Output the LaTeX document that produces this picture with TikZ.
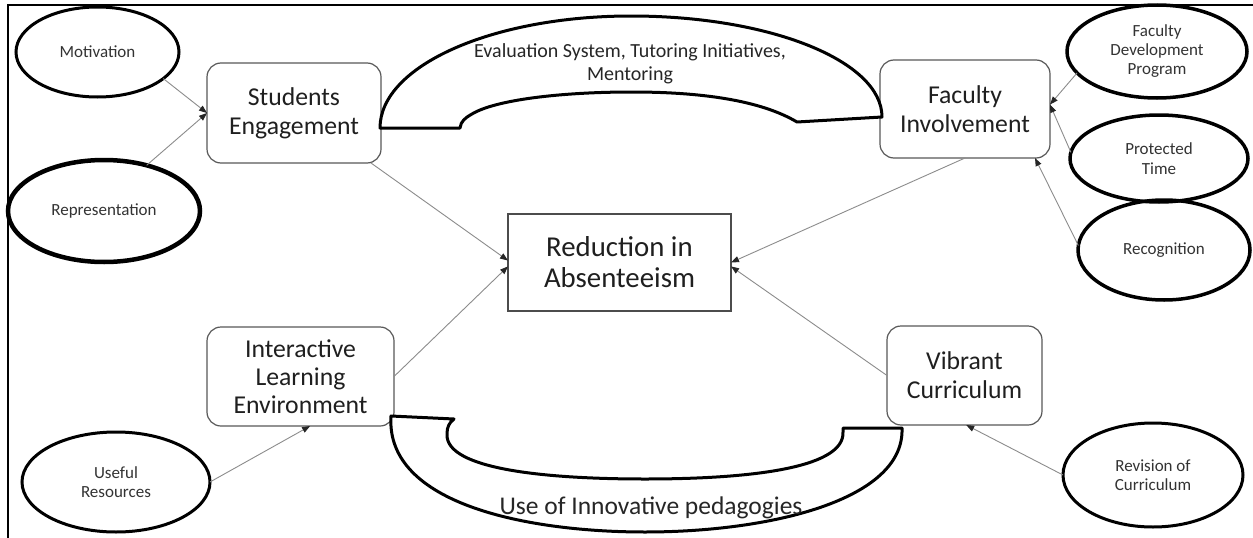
\documentclass[tikz,border=0pt]{standalone}
\usepackage{fontspec}
\setmainfont{Carlito}
\usetikzlibrary{shapes.geometric,arrows.meta}

\begin{document}
\begin{tikzpicture}[x=1pt,y=-1pt,
  every node/.style={inner sep=0pt, outer sep=0pt},
  roundbox/.style={draw=black!65, line width=1.2pt, rounded corners=14pt,
    align=center, text=black!88, font=\fontsize{25.7}{29}\selectfont},
  centrebox/.style={draw=black!70, line width=1.5pt, align=center,
    text=black!88, font=\fontsize{28.8}{31}\selectfont},
  factor/.style={ellipse, draw=black, line width=3pt, align=center,
    text=black!80, font=\fontsize{17}{19.5}\selectfont},
  link/.style={draw=black!45, line width=0.9pt,
    -{Triangle[length=8pt,width=6pt,color=black!85]}},
  band/.style={draw=black, line width=3pt, line join=round, fill=white},
  bandtext/.style={align=center, text=black!85}
]
\useasboundingbox (0,0) rectangle (1253,538);
\fill[white] (0,0) rectangle (1253,538);

% frame
\draw[line width=1.5pt] (8,538) -- (8,5) -- (1253,5);

% main boxes
\node[roundbox, minimum width=174pt, minimum height=100pt] (se) at (294,113) {Students\\Engagement};
\node[roundbox, minimum width=170pt, minimum height=98pt] (fi) at (965,109) {Faculty\\Involvement};
\node[roundbox, minimum width=187pt, minimum height=99pt, font=\fontsize{25.7}{28}\selectfont] (ile) at (300.5,376.5) {Interactive\\Learning\\Environment};
\node[roundbox, minimum width=155pt, minimum height=99pt] (vc) at (964.5,375.5) {Vibrant\\Curriculum};
\node[centrebox, minimum width=223pt, minimum height=97pt] (red) at (619.5,262.5) {Reduction in\\Absenteeism};

% contributing factors
\node[factor, minimum width=163pt, minimum height=90pt] (mot) at (97.5,52) {Motivation};
\node[factor, line width=4.5pt, minimum width=192pt, minimum height=102pt] (rep) at (104,211) {Representation};
\node[factor, line width=3.5pt, minimum width=180pt, minimum height=93pt, font=\fontsize{17}{19}\selectfont] (fdp) at (1157,51.5) {Faculty\\Development\\Program};
\node[factor, line width=3.5pt, minimum width=178pt, minimum height=87pt] (pt) at (1159,158.5) {Protected\\Time};
\node[factor, line width=3.5pt, minimum width=172pt, minimum height=100pt] (rec) at (1164,250) {Recognition};
\node[factor, minimum width=188pt, minimum height=100pt] (use) at (116,482) {Useful\\Resources};
\node[factor, minimum width=180pt, minimum height=104pt] (rev) at (1153,475) {Revision of\\Curriculum};

% connectors
\draw[link] (mot.-22) -- (se.west);
\draw[link] (rep.47) -- (se.west);
\draw[link] (se.-33) -- (red.179);
\draw[link] (ile.east) -- (red.182.3);
\draw[link] (fi.south) -- (red.east);
\draw[link] (vc.west) -- (red.-2);
\draw[link] (fdp.195) -- (fi.3);
\draw[link] (pt.176) -- (fi.3);
\draw[link] (rec.177) -- (fi.-35);
\draw[link] (use.east) -- (ile.-79);
\draw[link] (rev.west) -- (vc.-88);

% upper band linking engagement and involvement
\draw[band] (380,128) .. controls (380,66) and (492,16) .. (631,16)
  .. controls (770,16) and (882,61) .. (882,117) -- (797,122)
  .. controls (760,100) and (700,92) .. (632,92)
  .. controls (560,92) and (495,100) .. (472,114)
  .. controls (465,118) and (461,121) .. (460,128) -- cycle;
\node[bandtext, font=\fontsize{20}{23}\selectfont] (toplab) at (630,63.5)
  {Evaluation System, Tutoring Initiatives,\\Mentoring};

% lower band linking learning environment and curriculum
\draw[band] (391,416) -- (454,419) .. controls (449,423) and (447,427) .. (447,434)
  .. controls (445,470) and (550,479) .. (645,479)
  .. controls (740,479) and (845,470) .. (843,432) -- (843,428) -- (902,428)
  .. controls (905,500) and (770,532) .. (645,532)
  .. controls (530,532) and (385,505) .. (391,416) -- cycle;
\node[bandtext, font=\fontsize{25.5}{28}\selectfont] (botlab) at (651,508)
  {Use of Innovative pedagogies};

\end{tikzpicture}
\end{document}
